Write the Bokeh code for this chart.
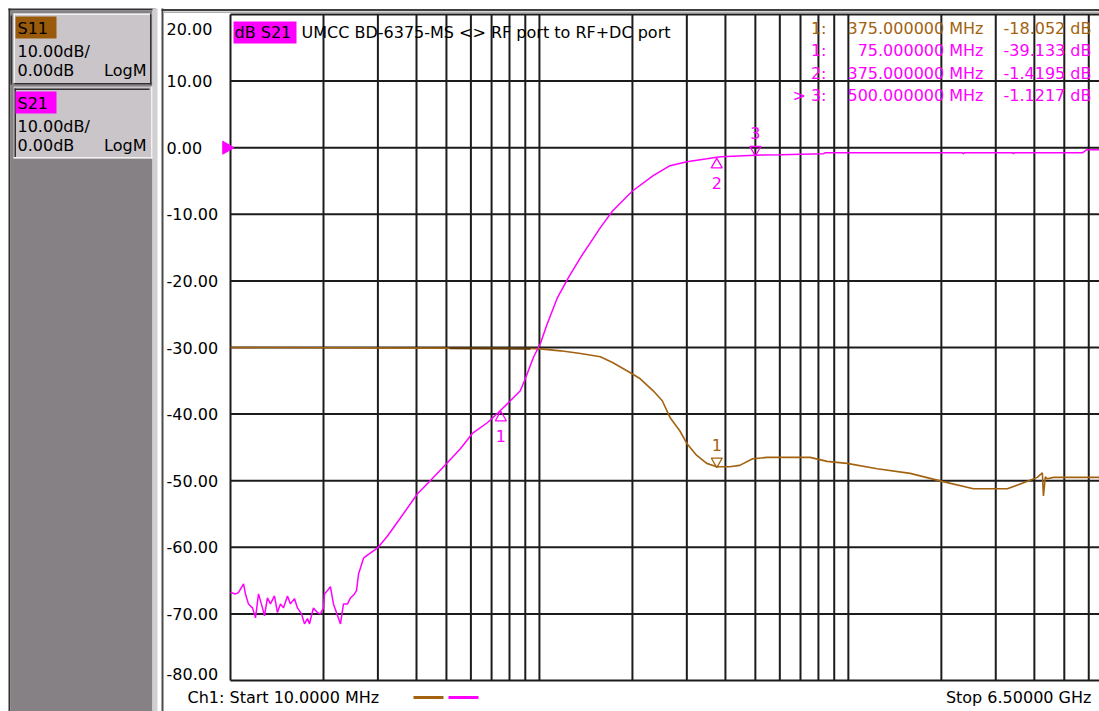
import numpy as np
from bokeh.plotting import figure
from bokeh.models import Range1d, LogScale
from bokeh.core.properties import value
from bokeh.embed import file_html
from bokeh.resources import INLINE

# ------------------------------------------------------------------ data
s21_freq_mhz = [10, 10.38, 10.61, 11.02, 11.18, 11.43, 11.78, 12.05, 12.32, 12.69,
                12.88, 13.17, 13.47, 13.88, 14.19, 14.51, 14.84, 15.29, 15.63, 16.11,
                16.47, 16.98, 17.36, 17.75, 18.02, 18.55, 19.11, 19.54, 20.0, 20.15,
                20.6, 21.06, 21.54, 22.03, 22.7, 23.21, 23.92, 24.46, 25.2, 25.58,
                25.97, 26.97, 29.93, 32.23, 35.48, 40.24, 44.3, 50.35, 55.47, 60.65,
                67.8, 73.5, 80.5, 86.7, 90.0, 95.6, 100.7, 106.1, 114.4, 124.1,
                135.8, 157.5, 172.4, 200, 233.5, 264.6, 300.2, 348.4, 375, 386,
                500, 602, 832, 843, 2330, 2355, 2380, 3400, 3420, 3445,
                5740, 5913, 6500]
s21_db = [-66.8, -67.0, -66.8, -65.5, -67.0, -68.5, -69.1, -70.6, -67.0, -69.1,
          -70.3, -67.6, -68.5, -67.3, -69.8, -68.5, -69.1, -67.3, -68.5, -67.7,
          -69.1, -70.0, -71.5, -70.7, -71.5, -69.1, -69.8, -70.0, -69.1, -67.0,
          -66.5, -65.9, -68.5, -69.8, -71.5, -68.5, -68.5, -67.6, -67.0, -66.5,
          -64.0, -61.6, -60.1, -58.3, -55.6, -52.0, -50.0, -47.3, -45.2, -42.9,
          -41.3, -39.8, -38.0, -36.5, -34.7, -31.5, -29.4, -26.4, -22.5, -19.5,
          -16.5, -12.0, -9.5, -6.5, -4.2, -2.7, -2.1, -1.65, -1.42, -1.35,
          -1.12, -1.05, -0.9, -0.75, -0.75, -0.9, -0.75, -0.75, -0.9, -0.75,
          -0.75, -0.3, -0.3]

s11_freq_mhz = [10, 51.2, 93.6, 100.7, 117, 135.8, 157.5, 173, 197, 212,
                233.5, 249.8, 264.6, 284.6, 300, 323, 348, 375, 413, 445,
                490, 546, 645, 752, 853, 990, 1240, 1585, 2010, 2540,
                3270, 3800, 4090, 4180, 4245, 4280, 4340, 4400, 4620, 6500]
s11_db = [-30.0, -30.1, -30.15, -30.2, -30.5, -30.9, -31.4, -32.3, -33.8, -34.7,
          -36.5, -38.0, -40.5, -42.5, -44.4, -46.2, -47.4, -47.9, -47.9, -47.7,
          -46.7, -46.5, -46.5, -46.5, -47.1, -47.4, -48.2, -48.9, -50.1, -51.2,
          -51.2, -50.1, -49.5, -49.1, -48.8, -52.3, -49.4, -49.7, -49.5, -49.5]
s11_overlap_mhz = [51.0, 94.0]

start_freq_mhz = 10.0
stop_freq_mhz = 6500.0
grid_freq_mhz = [10, 20, 30, 40, 50, 60, 70, 80, 90,
                 100, 200, 300, 400, 500, 600, 700, 800, 900,
                 1000, 2000, 3000, 4000, 5000, 6000]
db_ticks = [20, 10, 0, -10, -20, -30, -40, -50, -60, -70, -80]
db_tick_labels = ["20.00", "10.00", "0.00", "-10.00", "-20.00", "-30.00",
                  "-40.00", "-50.00", "-60.00", "-70.00", "-80.00"]
ref_level_db = 0.0

marker_trace = ["S11", "S21", "S21", "S21"]
marker_number = ["1", "1", "2", "3"]
marker_freq_mhz = [375.0, 75.0, 375.0, 500.0]
marker_readout_prefix = ["1:", "1:", "2:", "> 3:"]
marker_readout_freq = ["375.000000 MHz", "75.000000 MHz", "375.000000 MHz", "500.000000 MHz"]
marker_readout_value = ["-18.052 dB", "-39.133 dB", "-1.4195 dB", "-1.1217 dB"]

channel_names = ["S11", "S21"]
channel_scale = ["10.00dB/", "10.00dB/"]
channel_ref = ["0.00dB", "0.00dB"]
channel_format = ["LogM", "LogM"]

title_param = "dB S21"
title_text = "UMCC  BD-6375-MS <> RF port to RF+DC port"
start_text = "Ch1: Start  10.0000 MHz"
stop_text = "Stop  6.50000 GHz"

assert len(s21_freq_mhz) == len(s21_db)
assert len(s11_freq_mhz) == len(s11_db)

# ------------------------------------------------------------------ style
BROWN = "#A3620F"
BROWN_BOX = "#9A5A0B"
MAGENTA = "#FF00FF"
GRID = "#1C1C1C"
PANEL_GRAY = "#858185"
BOX_GRAY = "#C9C5C9"
DARK = "#333133"
LIGHT = "#F2F2F2"
FONT = value("DejaVu Sans")
FS = "16px"
TRACE_COLOR = {"S11": BROWN, "S21": MAGENTA}
marker_active = [True, False, False, True]   # active markers: down-triangle above trace

W, H = 1099, 711
FX0, FX1 = 230, 1099          # plot frame left/right in canvas px
FY0, FY1 = 14, 680            # plot frame top/bottom in canvas px
ppd = (FX1 - FX0) / np.log10(stop_freq_mhz / start_freq_mhz)
f_lo = start_freq_mhz / 10 ** (FX0 / ppd)
f_hi = stop_freq_mhz * 10 ** ((W - FX1) / ppd)
pdb = (FY1 - FY0) / (db_ticks[0] - db_ticks[-1])
db_hi = db_ticks[0] + FY0 / pdb
db_lo = db_ticks[-1] - (H - FY1) / pdb

p = figure(width=W, height=H, x_range=Range1d(0, W), y_range=Range1d(H, 0),
           x_axis_type=None, y_axis_type=None, toolbar_location=None,
           output_backend="svg", min_border=0, outline_line_color=None,
           background_fill_color="white", border_fill_color="white")
p.extra_x_ranges = {"f": Range1d(f_lo, f_hi)}
p.extra_x_scales = {"f": LogScale()}
p.extra_y_ranges = {"db": Range1d(db_lo, db_hi)}


def rect(l, r, t, b, color):
    p.quad(left=[l], right=[r], top=[t], bottom=[b], fill_color=color, line_color=None)


def txt(x, y, s, color="black", align="left", size=FS):
    p.text(x=[x], y=[y], text=[s], text_font=FONT, text_font_size=size,
           text_color=color, text_align=align, text_baseline="middle")


# ------------------------------------------------------------------ left panel
rect(8, 10, 8, H, DARK)
rect(8, 155, 8, 10, DARK)
rect(10, 152, 10, H, PANEL_GRAY)
rect(152, 157, 8, H, "#D2CFD2")
rect(161, 163, 8, H, "#4A4A4A")
rect(161, W, 8.5, 10.5, "#3F3F3F")
rect(163, W, 11, 12.5, "#B0B0B0")

# S11 box (raised)
rect(13, 151, 13, 84, BOX_GRAY)
rect(13, 151, 13, 14.5, LIGHT)
rect(13, 14.5, 13, 84, LIGHT)
rect(149.5, 151, 13, 84, DARK)
rect(13, 151, 82.5, 84, DARK)
rect(10, 11.5, 15, 84, DARK)
# S21 box (sunken)
rect(13, 152, 86, 158, BOX_GRAY)
rect(14, 149, 88, 89.5, DARK)
rect(14, 15.5, 88, 157, DARK)
rect(150.5, 152, 86, 158, LIGHT)
rect(13, 152, 156.5, 158, LIGHT)

box_tops = [16, 91]
box_colors = [BROWN_BOX, MAGENTA]
for i, name in enumerate(channel_names):
    top = box_tops[i]
    rect(15, 56, top, top + 22, box_colors[i])
    txt(17, top + 11.5, name)
    txt(17, top + 35, channel_scale[i])
    txt(17, top + 54, channel_ref[i])
    txt(146, top + 54, channel_format[i], align="right")

# ------------------------------------------------------------------ grid
nf = len(grid_freq_mhz)
p.segment(x0=grid_freq_mhz, y0=[db_ticks[-1]] * nf, x1=grid_freq_mhz, y1=[db_ticks[0]] * nf,
          x_range_name="f", y_range_name="db", line_color=GRID, line_width=2)
nd = len(db_ticks)
p.segment(x0=[start_freq_mhz] * nd, y0=db_ticks, x1=[stop_freq_mhz] * nd, y1=db_ticks,
          x_range_name="f", y_range_name="db", line_color=GRID, line_width=2)

# y tick labels
lab_off = [0.0] * nd
lab_off[0] = 14.0
lab_off[-1] = -7.0
p.text(x=[166] * nd, y=db_ticks, y_offset=lab_off, text=db_tick_labels,
       y_range_name="db", text_font=FONT, text_font_size=FS, text_color="black",
       text_align="left", text_baseline="middle")

# reference level arrow
p.scatter(x=[start_freq_mhz * 10 ** (-4 / ppd)], y=[ref_level_db], marker="triangle",
          angle=-np.pi / 2, size=13, fill_color=MAGENTA, line_color=MAGENTA,
          x_range_name="f", y_range_name="db")

# ------------------------------------------------------------------ traces
p.line(x=s11_freq_mhz, y=s11_db, x_range_name="f", y_range_name="db",
       line_color=BROWN, line_width=1.6)
f11 = np.array(s11_freq_mhz)
m = (f11 >= s11_overlap_mhz[0]) & (f11 <= s11_overlap_mhz[1])
p.line(x=list(f11[m]), y=list(np.array(s11_db)[m]), x_range_name="f", y_range_name="db",
       line_color="#5E3A0A", line_width=2.4)
p.line(x=s21_freq_mhz, y=s21_db, x_range_name="f", y_range_name="db",
       line_color=MAGENTA, line_width=1.5)

# ------------------------------------------------------------------ markers
traces = {"S11": (s11_freq_mhz, s11_db), "S21": (s21_freq_mhz, s21_db)}
for i, tr in enumerate(marker_trace):
    fr, db = traces[tr]
    f = marker_freq_mhz[i]
    yv = float(np.interp(np.log10(f), np.log10(fr), db))
    col = TRACE_COLOR[tr]
    if marker_active[i]:
        tri, off, lab = "inverted_triangle", -5.5, -22.0
    else:
        tri, off, lab = "triangle", 7.5, 26.0
    p.scatter(x=[f], y=[yv - off / pdb], marker=tri, size=11, fill_alpha=0,
              line_color=col, line_width=1.3, x_range_name="f", y_range_name="db")
    p.text(x=[f], y=[yv], y_offset=[lab], text=[marker_number[i]], x_range_name="f",
           y_range_name="db", text_font=FONT, text_font_size=FS, text_color=col,
           text_align="center", text_baseline="middle")

# marker readouts
for i, tr in enumerate(marker_trace):
    col = TRACE_COLOR[tr]
    yy = 28 + i * 22.4
    txt(826, yy, marker_readout_prefix[i], col, "right")
    txt(983, yy, marker_readout_freq[i], col, "right")
    txt(1003, yy, marker_readout_value[i], col, "left")

# title
rect(233, 296, 21, 43, MAGENTA)
txt(234, 32, title_param)
txt(301, 32, title_text)

# bottom status line
txt(187, 697, start_text)
rect(413, 443, 695.5, 698.5, BROWN)
rect(448, 478, 695.5, 698.5, MAGENTA)
txt(1096, 697, stop_text, align="right")

open("out.html", "w").write(file_html(p, INLINE))
